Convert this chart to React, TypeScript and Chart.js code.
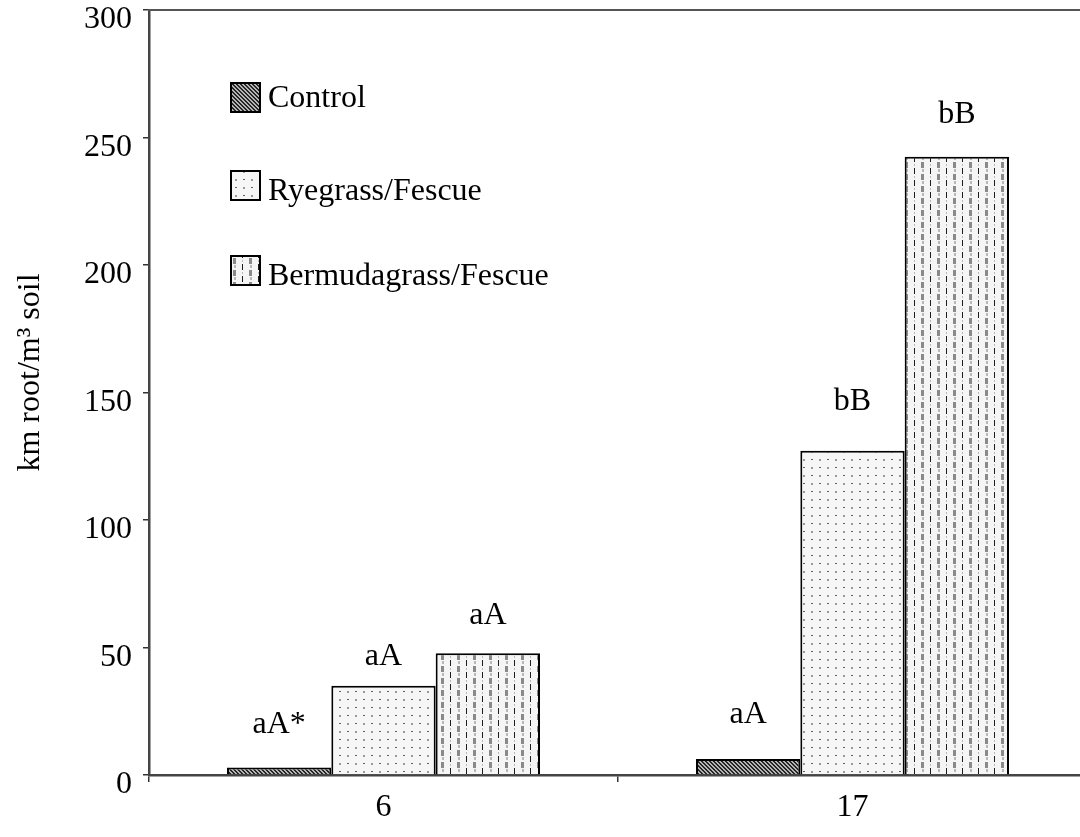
import React, { useEffect, useRef } from "react";
import { Chart, registerables } from "chart.js";

Chart.register(...registerables);

const categories = ["6", "17"];
const seriesNames = ["Control", "Ryegrass/Fescue", "Bermudagrass/Fescue"];
const controlValues = [2.9, 6.3];
const ryegrassValues = [35, 127.2];
const bermudaValues = [47.7, 242.5];
const controlLabels = ["aA*", "aA"];
const ryegrassLabels = ["aA", "bB"];
const bermudaLabels = ["aA", "bB"];
const controlLabelY = [19.6, 23.5];
const ryegrassLabelY = [46.3, 146.3];
const bermudaLabelY = [62.7, 258.8];
const yMin = 0;
const yMax = 300;
const yStep = 50;
const yTitle = "km root/m\u00B3 soil";

const FONT = "'Times New Roman', 'Liberation Serif', serif";

function makeTile(w: number, h: number, draw: (c: CanvasRenderingContext2D) => void): CanvasPattern {
  const t = document.createElement("canvas");
  t.width = w;
  t.height = h;
  const c = t.getContext("2d") as CanvasRenderingContext2D;
  draw(c);
  const main = document.createElement("canvas").getContext("2d") as CanvasRenderingContext2D;
  return main.createPattern(t, "repeat") as CanvasPattern;
}

function controlPattern() {
  return makeTile(4, 4, (c) => {
    c.fillStyle = "#b4b4b4";
    c.fillRect(0, 0, 4, 4);
    c.fillStyle = "#262626";
    for (let y = 0; y < 4; y++) {
      for (let x = 0; x < 4; x++) {
        const d = (((x - y) % 4) + 4) % 4;
        if (d === 0 || d === 1) c.fillRect(x, y, 1, 1);
      }
    }
  });
}

function ryePattern() {
  return makeTile(16, 16, (c) => {
    c.fillStyle = "#f6f6f6";
    c.fillRect(0, 0, 16, 16);
    c.fillStyle = "#5e5e5e";
    c.fillRect(3, 3, 2, 1);
    c.fillRect(11, 11, 2, 1);
    c.fillStyle = "#9a9a9a";
    c.fillRect(11, 3, 2, 2);
    c.fillRect(3, 11, 2, 2);
  });
}

function bermudaPattern() {
  return makeTile(16, 12, (c) => {
    c.fillStyle = "#f5f5f5";
    c.fillRect(0, 0, 16, 12);
    c.fillStyle = "#1c1c1c";
    c.fillRect(2, 0, 1, 6);
    c.fillStyle = "#8a8a8a";
    c.fillRect(9, 6, 3, 6);
    c.fillStyle = "#b8b8b8";
    c.fillRect(2, 8, 1, 2);
    c.fillRect(10, 1, 2, 3);
  });
}

export default function App() {
  const ref = useRef<HTMLCanvasElement | null>(null);

  useEffect(() => {
    if (!ref.current) return;
    const patterns = [controlPattern(), ryePattern(), bermudaPattern()];
    const valueSets = [controlValues, ryegrassValues, bermudaValues];
    const labelSets = [controlLabels, ryegrassLabels, bermudaLabels];
    const labelYSets = [controlLabelY, ryegrassLabelY, bermudaLabelY];

    const decor = {
      id: "decor",
      afterDraw(chart: any) {
        const ctx = chart.ctx as CanvasRenderingContext2D;
        const area = chart.chartArea;
        const yScale = chart.scales.y;
        ctx.save();
        // top border line
        ctx.strokeStyle = "#555555";
        ctx.lineWidth = 2;
        ctx.beginPath();
        ctx.moveTo(area.left - 1, area.top);
        ctx.lineTo(area.right + 5, area.top);
        ctx.stroke();

        // bar annotations
        ctx.fillStyle = "#000";
        ctx.font = `32px ${FONT}`;
        ctx.textAlign = "center";
        ctx.textBaseline = "middle";
        for (let i = 0; i < labelSets.length; i++) {
          const meta = chart.getDatasetMeta(i);
          for (let j = 0; j < labelSets[i].length; j++) {
            const bar = meta.data[j];
            const y = yScale.getPixelForValue(labelYSets[i][j]);
            ctx.fillText(labelSets[i][j], bar.x, y);
          }
        }

        // legend
        const boxTops = [83, 171, 256];
        const baselines = [107, 200, 285];
        const boxX = 231;
        const boxSize = 29;
        ctx.textAlign = "left";
        ctx.textBaseline = "alphabetic";
        for (let i = 0; i < seriesNames.length; i++) {
          ctx.fillStyle = patterns[i] as any;
          ctx.fillRect(boxX, boxTops[i], boxSize, boxSize);
          ctx.strokeStyle = "#000";
          ctx.lineWidth = 2;
          ctx.strokeRect(boxX, boxTops[i], boxSize, boxSize);
          ctx.fillStyle = "#000";
          ctx.fillText(seriesNames[i], 268, baselines[i]);
        }

        // y axis title
        ctx.translate(39, (area.top + area.bottom) / 2 - 20);
        ctx.rotate(-Math.PI / 2);
        ctx.textAlign = "center";
        ctx.textBaseline = "alphabetic";
        ctx.fillText(yTitle, 0, 0);
        ctx.restore();
      },
    };

    const chart = new Chart(ref.current, {
      type: "bar",
      data: {
        labels: categories,
        datasets: seriesNames.map((name, i) => ({
          label: name,
          data: valueSets[i],
          backgroundColor: patterns[i] as any,
          borderColor: "#000",
          borderWidth: 2,
          categoryPercentage: 0.6674,
          barPercentage: 1,
        })),
      },
      options: {
        responsive: false,
        devicePixelRatio: 1,
        animation: false,
        layout: { padding: { left: 0, top: 10, right: 3, bottom: 0 } },
        plugins: {
          legend: { display: false },
          tooltip: { enabled: false },
          title: { display: false },
        },
        scales: {
          x: {
            offset: true,
            grid: {
              display: true,
              offset: true,
              drawOnChartArea: false,
              drawTicks: true,
              tickLength: 7,
              color: "#333",
              lineWidth: 1.5,
            },
            border: { display: true, color: "#444", width: 2.5 },
            ticks: {
              color: "#000",
              font: { family: FONT, size: 32 },
              padding: 6,
              maxRotation: 0,
            },
            afterFit(scale: any) {
              scale.height = 62;
              scale.paddingLeft = 0;
              scale.paddingRight = 0;
            },
          },
          y: {
            min: yMin,
            max: yMax,
            grid: {
              display: true,
              drawOnChartArea: false,
              drawTicks: true,
              tickLength: 6,
              color: "#333",
              lineWidth: 1.5,
            },
            border: { display: true, color: "#444", width: 2.5 },
            ticks: {
              stepSize: yStep,
              color: "#000",
              font: { family: FONT, size: 32 },
              padding: 11,
              labelOffset: 10,
            },
            afterFit(scale: any) {
              scale.width = 149;
              scale.paddingTop = 0;
              scale.paddingBottom = 0;
            },
          },
        },
      },
      plugins: [decor],
    });

    return () => chart.destroy();
  }, []);

  return (
    <div
      style={{
        position: "fixed",
        left: 0,
        top: 0,
        width: 1080,
        height: 837,
        overflow: "hidden",
        background: "#fff",
      }}
    >
      <canvas ref={ref} width={1090} height={837} style={{ display: "block", width: 1090, height: 837 }} />
    </div>
  );
}
